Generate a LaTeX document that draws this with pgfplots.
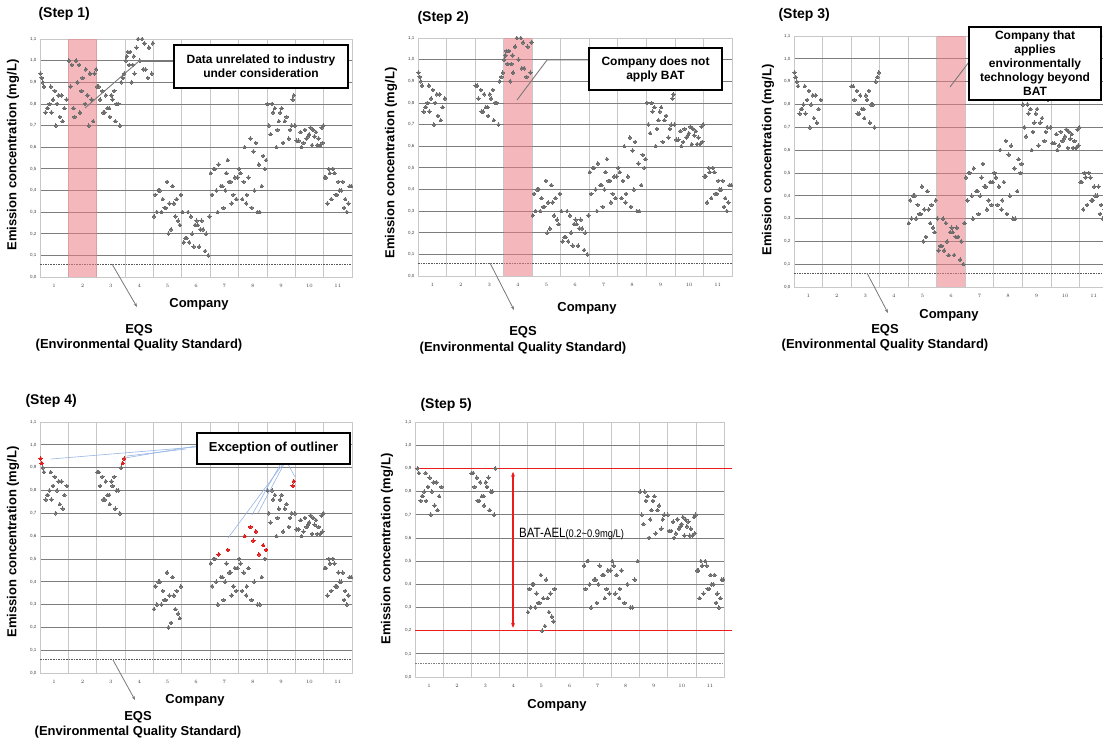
\documentclass[border=0pt]{standalone}
\usepackage{fontspec}
\setmainfont{Liberation Sans}
\newfontfamily\narrowfont[FakeStretch=0.85]{Liberation Sans}
\usepackage{pgfplots}
\pgfplotsset{compat=1.18}
\usepackage{pgfplotstable}
\usetikzlibrary{arrows.meta}

\definecolor{markgray}{RGB}{110,110,110}
\definecolor{markred}{RGB}{225,30,30}
\definecolor{gridd}{RGB}{125,125,125}
\definecolor{gridl}{RGB}{200,200,200}
\definecolor{bandpink}{RGB}{235,126,133}
\definecolor{annot}{RGB}{120,120,120}
\definecolor{blueln}{RGB}{150,180,228}
\definecolor{redln}{RGB}{236,28,28}

% c = company, f = position inside the company column, y = mg/L, o = outlier (step 4)
\pgfplotstableread{
c f y o
1 0.02 0.94 1
1 0.06 0.92 1
1 0.10 0.90 0
1 0.14 0.88 0
1 0.20 0.76 0
1 0.25 0.78 0
1 0.28 0.78 0
1 0.33 0.80 0
1 0.38 0.88 0
1 0.40 0.76 0
1 0.46 0.82 0
1 0.52 0.86 0
1 0.56 0.70 0
1 0.60 0.80 0
1 0.66 0.84 0
1 0.70 0.74 0
1 0.76 0.84 0
1 0.80 0.72 0
1 0.86 0.78 0
1 0.94 0.82 0
2 0.02 1.00 0
2 0.08 0.88 0
2 0.12 0.98 0
2 0.18 0.78 0
2 0.22 0.74 0
2 0.27 1.00 0
2 0.32 0.90 0
2 0.38 0.98 0
2 0.41 0.76 0
2 0.46 0.86 0
2 0.50 0.92 0
2 0.59 0.80 0
2 0.62 0.96 0
2 0.67 0.84 0
2 0.72 0.70 0
2 0.76 0.94 0
2 0.82 0.82 0
2 0.87 0.72 0
2 0.92 0.94 0
2 0.98 0.96 0
3 0.02 0.88 0
3 0.07 0.88 0
3 0.12 0.82 0
3 0.20 0.86 0
3 0.23 0.76 0
3 0.28 0.76 0
3 0.32 0.84 0
3 0.38 0.78 0
3 0.44 0.78 0
3 0.46 0.74 0
3 0.52 0.84 0
3 0.56 0.82 0
3 0.62 0.86 0
3 0.66 0.72 0
3 0.70 0.80 0
3 0.76 0.80 0
3 0.82 0.70 0
3 0.86 0.90 0
3 0.92 0.92 1
3 0.97 0.94 1
4 0.02 1.00 0
4 0.06 1.02 0
4 0.10 1.04 0
4 0.14 0.98 0
4 0.18 1.04 0
4 0.23 0.90 0
4 0.27 0.98 0
4 0.31 1.02 0
4 0.33 0.94 0
4 0.40 1.06 0
4 0.46 1.10 0
4 0.52 1.00 0
4 0.60 1.10 0
4 0.64 0.96 0
4 0.68 1.08 0
4 0.72 0.96 0
4 0.80 0.92 0
4 0.84 1.06 0
4 0.94 0.94 0
4 0.98 1.08 0
5 0.02 0.28 0
5 0.07 0.38 0
5 0.12 0.30 0
5 0.17 0.40 0
5 0.23 0.40 0
5 0.28 0.30 0
5 0.33 0.36 0
5 0.39 0.32 0
5 0.43 0.32 0
5 0.48 0.44 0
5 0.53 0.20 0
5 0.56 0.34 0
5 0.62 0.22 0
5 0.67 0.42 0
5 0.72 0.34 0
5 0.77 0.28 0
5 0.82 0.36 0
5 0.87 0.26 0
5 0.93 0.24 0
5 0.97 0.38 0
6 0.02 0.30 0
6 0.07 0.16 0
6 0.13 0.18 0
6 0.17 0.18 0
6 0.22 0.30 0
6 0.26 0.16 0
6 0.32 0.28 0
6 0.36 0.20 0
6 0.42 0.14 0
6 0.47 0.24 0
6 0.52 0.26 0
6 0.56 0.24 0
6 0.61 0.14 0
6 0.66 0.22 0
6 0.70 0.26 0
6 0.75 0.22 0
6 0.82 0.12 0
6 0.86 0.20 0
6 0.93 0.10 0
6 0.97 0.28 0
7 0.02 0.48 0
7 0.07 0.38 0
7 0.13 0.50 0
7 0.16 0.50 0
7 0.22 0.40 0
7 0.27 0.30 0
7 0.30 0.52 1
7 0.38 0.42 0
7 0.43 0.42 0
7 0.47 0.32 0
7 0.53 0.40 0
7 0.57 0.48 0
7 0.62 0.54 1
7 0.67 0.44 0
7 0.72 0.44 0
7 0.76 0.34 0
7 0.82 0.38 0
7 0.87 0.46 0
7 0.92 0.36 0
7 0.96 0.46 0
8 0.02 0.50 0
8 0.07 0.48 0
8 0.13 0.36 0
8 0.18 0.44 0
8 0.22 0.60 1
8 0.27 0.34 0
8 0.29 0.38 0
8 0.35 0.46 0
8 0.42 0.64 1
8 0.46 0.32 0
8 0.52 0.58 1
8 0.56 0.40 0
8 0.61 0.62 1
8 0.67 0.30 0
8 0.72 0.52 1
8 0.75 0.30 0
8 0.82 0.42 0
8 0.87 0.56 1
8 0.93 0.50 0
8 0.97 0.54 1
9 0.02 0.80 0
9 0.07 0.70 0
9 0.13 0.66 0
9 0.18 0.80 0
9 0.22 0.76 0
9 0.28 0.78 0
9 0.33 0.60 0
9 0.37 0.68 0
9 0.42 0.72 0
9 0.47 0.76 0
9 0.52 0.78 0
9 0.57 0.62 0
9 0.63 0.72 0
9 0.69 0.74 0
9 0.77 0.64 0
9 0.82 0.68 0
9 0.87 0.70 0
9 0.91 0.82 1
9 0.95 0.84 1
9 0.99 0.70 0
10 0.05 0.63 0
10 0.12 0.63 0
10 0.19 0.67 0
10 0.22 0.60 0
10 0.29 0.62 0
10 0.34 0.68 0
10 0.40 0.64 0
10 0.45 0.65 0
10 0.49 0.66 0
10 0.54 0.69 0
10 0.59 0.61 0
10 0.63 0.68 0
10 0.68 0.65 0
10 0.73 0.67 0
10 0.78 0.61 0
10 0.82 0.64 0
10 0.88 0.61 0
10 0.93 0.69 0
10 0.96 0.62 0
10 0.99 0.70 0
11 0.04 0.46 0
11 0.08 0.46 0
11 0.13 0.34 0
11 0.18 0.50 0
11 0.22 0.48 0
11 0.27 0.36 0
11 0.33 0.50 0
11 0.38 0.48 0
11 0.42 0.38 0
11 0.47 0.38 0
11 0.52 0.44 0
11 0.56 0.40 0
11 0.62 0.40 0
11 0.67 0.44 0
11 0.72 0.32 0
11 0.76 0.36 0
11 0.82 0.30 0
11 0.87 0.34 0
11 0.92 0.42 0
11 0.97 0.42 0
}\emis

\pgfplotsset{
  stepax/.style={
    scale only axis, clip=false,
    xmin=0.5, xmax=11.5, ymin=0, ymax=1.1,
    xtick={1,...,11},
    ytick={0,0.1,0.2,0.3,0.4,0.5,0.6,0.7,0.8,0.9,1.0},
    yticklabels={0{,}0,0{,}1,0{,}2,0{,}3,0{,}4,0{,}5,0{,}6,0{,}7,0{,}8,0{,}9,1{,}0},
    extra y ticks={1.1}, extra y tick labels={1{,}1},
    extra y tick style={grid=none},
    minor xtick={1.5,2.5,...,10.5},
    xminorgrids, ymajorgrids,
    major grid style={gridd, line width=0.8pt},
    minor grid style={gridl, line width=0.7pt},
    major tick length=0pt, minor tick length=0pt,
    axis line style={gridl, line width=0.7pt},
    tick label style={font=\fontsize{4.5}{5}\selectfont, text=black!75},
    xticklabel style={yshift=-4pt},
  },
  gdots/.style={only marks, color=markgray, mark=*, mark size=1.75pt,
    mark options={draw=markgray, fill=markgray, line width=0pt}},
  rdots/.style={only marks, color=markred, mark=*, mark size=1.75pt,
    mark options={draw=markred, fill=markred, line width=0pt}},
  eqs/.style={no marks, black!65, line width=0.8pt, dash pattern=on 1.6pt off 1pt},
}

\begin{document}
\begin{tikzpicture}
\useasboundingbox (0pt,0pt) rectangle (1103pt,-742pt);
\clip (0pt,0pt) rectangle (1103pt,-742pt);

% ---------------- Step 1
\begin{axis}[stepax, at={(40pt,-39pt)}, anchor=north west, width=312pt, height=238pt]
\addplot[eqs] coordinates {(0.5,0.06) (11.5,0.06)};
\addplot[gdots] table[x expr={\thisrow{c}-0.5+\thisrow{f}}, y=y] {\emis};
\fill[bandpink, opacity=0.55] (axis cs:1.5,0) rectangle (axis cs:2.5,1.1);
\end{axis}

% ---------------- Step 2
\begin{axis}[stepax, at={(418pt,-38pt)}, anchor=north west, width=314pt, height=238pt]
\addplot[eqs] coordinates {(0.5,0.06) (11.5,0.06)};
\addplot[gdots, restrict x to domain=0:12] table[x expr={\thisrow{c}-0.5+\thisrow{f}+100*(\thisrow{c}==2)}, y=y] {\emis};
\fill[bandpink, opacity=0.55] (axis cs:3.5,0) rectangle (axis cs:4.5,1.1);
\end{axis}

% ---------------- Step 3
\begin{axis}[stepax, at={(794pt,-36pt)}, anchor=north west, width=314pt, height=251pt]
\addplot[eqs] coordinates {(0.5,0.06) (11.5,0.06)};
\addplot[gdots, restrict x to domain=0:12] table[x expr={\thisrow{c}-0.5+\thisrow{f}+100*((\thisrow{c}==2)+(\thisrow{c}==4))}, y=y] {\emis};
\fill[bandpink, opacity=0.55] (axis cs:5.5,0) rectangle (axis cs:6.5,1.1);
\end{axis}

% ---------------- Step 4
\begin{axis}[stepax, at={(40pt,-422pt)}, anchor=north west, width=312pt, height=251pt]
\addplot[eqs] coordinates {(0.5,0.06) (11.5,0.06)};
\addplot[gdots, restrict x to domain=0:12] table[x expr={\thisrow{c}-0.5+\thisrow{f}+100*((\thisrow{c}==2)+(\thisrow{c}==4)+(\thisrow{c}==6)+\thisrow{o})}, y=y] {\emis};
\addplot[rdots, restrict x to domain=0:12] table[x expr={\thisrow{c}-0.5+\thisrow{f}+100*(1-\thisrow{o})}, y=y] {\emis};
\end{axis}

% ---------------- Step 5
\begin{axis}[stepax, at={(415pt,-422pt)}, anchor=north west, width=309pt, height=255pt]
\addplot[eqs, black!50] coordinates {(0.5,0.06) (11.5,0.06)};
\addplot[gdots, restrict x to domain=0:12] table[x expr={\thisrow{c}-0.5+\thisrow{f}+100*((\thisrow{c}==2)+(\thisrow{c}==4)+(\thisrow{c}==6)+\thisrow{o})}, y=y] {\emis};
\addplot[no marks, redln, line width=1.1pt] coordinates {(0.5,0.9) (11.8,0.9)};
\addplot[no marks, redln, line width=1.1pt] coordinates {(0.5,0.2) (11.8,0.2)};
\addplot[no marks, redln, line width=1.2pt, {Stealth[length=5pt,width=4pt]}-{Stealth[length=5pt,width=4pt]}] coordinates {(3.99,0.885) (3.99,0.212)};
\end{axis}

% ---------------- texts and annotations (pixel coordinates)
\begin{scope}[x=1pt, y=-1pt]
\tikzset{ttl/.style={anchor=west, font=\bfseries\fontsize{14}{16}\selectfont},
         ylab/.style={rotate=90, font=\bfseries\fontsize{13}{15}\selectfont},
         lab/.style={font=\bfseries\fontsize{13}{15}\selectfont},
         boxt/.style={align=center, font=\bfseries\fontsize{12}{14}\selectfont},
         eqsarrow/.style={annot, line width=0.8pt, -{Stealth[length=4pt,width=3pt]}}}

\node[ttl] at (35,14) {(Step 1)};
\node[ttl] at (414,18) {(Step 2)};
\node[ttl] at (775,15) {(Step 3)};
\node[ttl] at (22,401) {(Step 4)};
\node[ttl] at (417,405) {(Step 5)};

\node[ylab] at (13,155) {Emission concentration (mg/L)};
\node[ylab] at (391,163) {Emission concentration (mg/L)};
\node[ylab] at (768,160) {Emission concentration (mg/L)};
\node[ylab] at (13,542) {Emission concentration (mg/L)};
\node[ylab] at (387,549) {Emission concentration (mg/L)};

\node[lab] at (199,304) {Company};
\node[lab] at (587,308) {Company};
\node[lab] at (949,315) {Company};
\node[lab] at (195,700) {Company};
\node[lab] at (557,705) {Company};

\node[lab] at (139,330) {EQS};
\node[lab] at (139,345) {(Environmental Quality Standard)};
\node[lab] at (523,332) {EQS};
\node[lab] at (523,348) {(Environmental Quality Standard)};
\node[lab] at (885,330) {EQS};
\node[lab] at (885,345) {(Environmental Quality Standard)};
\node[lab] at (138,717) {EQS};
\node[lab] at (138,732) {(Environmental Quality Standard)};

\draw[eqsarrow] (112,264) -- (137,307);
\draw[eqsarrow] (490,263) -- (514,310);
\draw[eqsarrow] (867,273) -- (888,313);
\draw[eqsarrow] (113,660) -- (135,700);

% step 1 callout
\draw[annot, line width=0.9pt] (85,108) -- (138,62);
\draw[annot, line width=1.4pt] (138,61) -- (174,61);
\draw[fill=white, line width=1.2pt] (174,45) rectangle (348,88);
\node[boxt] at (261,66.5) {Data unrelated to industry\\under consideration};

% step 2 callout
\draw[annot, line width=0.9pt] (517,100) -- (547,60) -- (589,60);
\draw[fill=white, line width=1.2pt] (589,48) rectangle (722,90);
\node[boxt] at (655.5,69) {Company does not\\apply BAT};

% step 3 callout
\draw[annot, line width=0.9pt] (950,87) -- (969,62);
\draw[fill=white, line width=1.2pt] (969,27) rectangle (1101,100);
\node[boxt] at (1035,63.5) {Company that\\applies\\environmentally\\technology beyond\\BAT};

% step 4 callout
\draw[blueln, line width=0.6pt] (196,447) -- (51,459);
\draw[blueln, line width=0.6pt] (196,446) -- (125,458);
\draw[blueln, line width=0.6pt] (186,449) -- (127,456);
\draw[blueln, line width=0.6pt] (283,464) -- (228,538);
\draw[blueln, line width=0.6pt] (280,465) -- (252,515);
\draw[blueln, line width=0.6pt] (284,464) -- (258,513);
\draw[blueln, line width=0.6pt] (288,464) -- (295,477);
\draw[fill=white, line width=1.2pt] (197,433) rectangle (350,464);
\node[lab] at (273.5,448.5) {Exception of outliner};

% step 5 label
\node[anchor=west, inner sep=0pt] at (519,534) {\narrowfont\fontsize{13.5}{15}\selectfont BAT-AEL\fontsize{11}{13}\selectfont(0.2\textasciitilde0.9mg/L)};
\end{scope}
\end{tikzpicture}
\end{document}
